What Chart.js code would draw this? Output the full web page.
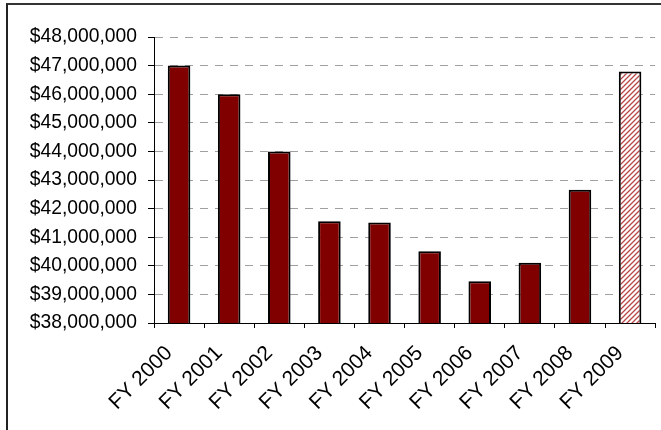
<!DOCTYPE html>
<html>
<head>
<meta charset="utf-8">
<script src="https://cdn.jsdelivr.net/npm/chart.js@4.4.1/dist/chart.umd.min.js"></script>
<style>
  html, body { margin: 0; padding: 0; background: #fff; }
  #wrap { position: relative; width: 661px; height: 430px; overflow: hidden; }
  #frame { position: absolute; left: 6px; top: 3px; width: 700px; height: 500px;
           border-top: 2px solid #333; border-left: 2px solid #222; pointer-events: none; }
</style>
</head>
<body>
<div id="wrap">
  <canvas id="budget-chart" width="661" height="430"></canvas>
  <div id="frame"></div>
</div>
<script>
// chart data
const years = ['FY 2000', 'FY 2001', 'FY 2002', 'FY 2003', 'FY 2004',
               'FY 2005', 'FY 2006', 'FY 2007', 'FY 2008', 'FY 2009'];
const amounts = [47000000, 46000000, 44000000, 41560000, 41510000,
                 40510000, 39460000, 40110000, 42660000, 46790000];
const yMin = 38000000;
const yMax = 48000000;
const yStep = 1000000;

// hatched fill for the last (projected) bar
function makeHatch() {
    const c = document.createElement('canvas');
    c.width = 5;
    c.height = 5;
    const g = c.getContext('2d');
    g.fillStyle = '#fff';
    g.fillRect(0, 0, 5, 5);
    g.strokeStyle = '#b84848';
    g.lineWidth = 1.3;
    g.beginPath();
    g.moveTo(-1, 6); g.lineTo(6, -1);
    g.moveTo(-1, 1); g.lineTo(1, -1);
    g.moveTo(4, 6); g.lineTo(6, 4);
    g.stroke();
    return g.createPattern(c, 'repeat');
}

const hatch = makeHatch();
const barColors = amounts.map((v, i) => i === amounts.length - 1 ? hatch : '#800000');

const fontFamily = 'Arial, "Liberation Sans", sans-serif';

const ctx = document.getElementById('budget-chart').getContext('2d');
const budgetChart = new Chart(ctx, {
    type: 'bar',
    data: {
        labels: years,
        datasets: [{
            data: amounts,
            backgroundColor: barColors,
            borderColor: '#000',
            borderWidth: 2,
            categoryPercentage: 1,
            barPercentage: 0.45
        }]
    },
    options: {
        responsive: false,
        animation: false,
        layout: {
            padding: { left: 27, top: 37, right: 2, bottom: 0 }
        },
        plugins: {
            legend: { display: false },
            tooltip: { enabled: false }
        },
        scales: {
            x: {
                grid: {
                    display: true,
                    drawOnChartArea: false,
                    drawTicks: true,
                    tickLength: 5,
                    tickColor: '#000',
                    offset: true
                },
                border: { color: '#000', width: 1 },
                ticks: {
                    color: '#000',
                    font: { family: fontFamily, size: 21 },
                    maxRotation: 45,
                    minRotation: 45,
                    padding: 13,
                    labelOffset: -10
                },
                afterFit: function(scale) {
                    scale.height = 107;
                }
            },
            y: {
                min: yMin,
                max: yMax,
                grid: {
                    color: '#a0a0a0',
                    tickColor: '#000',
                    tickLength: 6,
                    tickBorderDash: []
                },
                border: { color: '#000', width: 1, dash: [8, 7] },
                ticks: {
                    stepSize: yStep,
                    color: '#000',
                    font: { family: fontFamily, size: 19.3 },
                    padding: 11,
                    callback: function(value) {
                        return '$' + value.toLocaleString('en-US');
                    }
                },
                afterFit: function(scale) {
                    scale.width = 127;
                }
            }
        }
    }
});
</script>
</body>
</html>
